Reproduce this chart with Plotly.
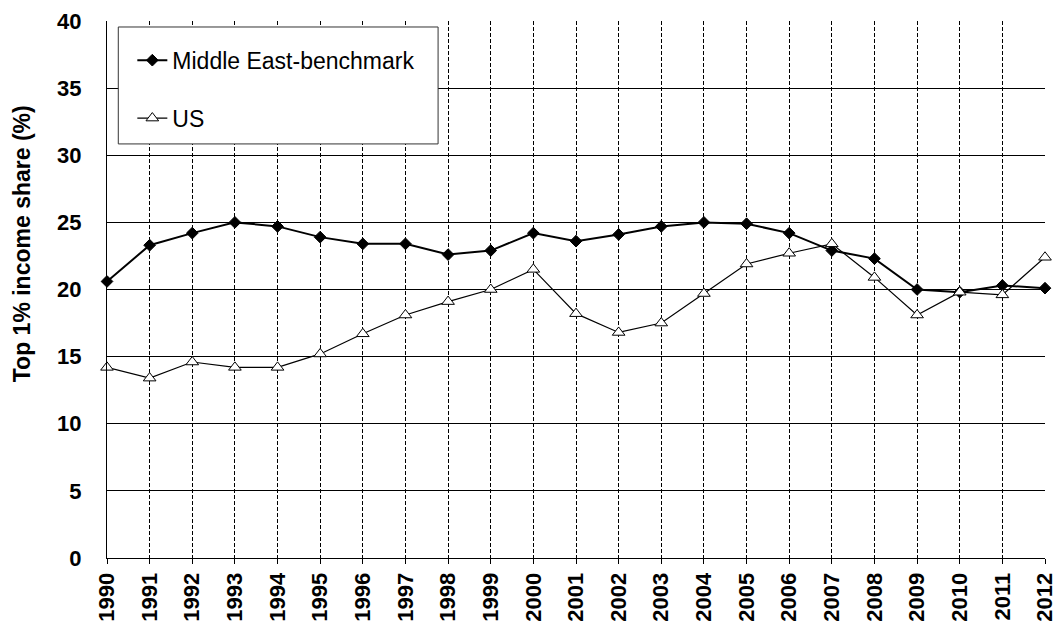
import plotly.graph_objects as go

# years on the x axis
years = list(range(1990, 2013))

# top 1% income share
middle_east = [20.6, 23.3, 24.2, 25.0, 24.7, 23.9, 23.4, 23.4, 22.6, 22.9, 24.2, 23.6,
               24.1, 24.7, 25.0, 24.9, 24.2, 22.9, 22.3, 20.0, 19.8, 20.3, 20.1]
us = [14.2, 13.4, 14.6, 14.2, 14.2, 15.2, 16.7, 18.1, 19.1, 20.0, 21.5, 18.2,
      16.8, 17.5, 19.7, 21.9, 22.7, 23.4, 20.9, 18.1, 19.8, 19.6, 22.4]

FONT = "Arial, Liberation Sans, sans-serif"

# page has an 8px body margin, so the figure is a bit smaller than the window
W, H = 1053, 619
L, T, PW, PH = 98.7, 13, 938.6, 537.3

fig = go.Figure()
fig.add_trace(go.Scatter(
    x=years, y=middle_east, name="Middle East-benchmark", legendgroup="a",
    mode="lines+markers", cliponaxis=False,
    line=dict(color="black", width=2),
    marker=dict(symbol="diamond", size=9, color="black", line=dict(color="black", width=1)),
))
fig.add_trace(go.Scatter(
    x=years, y=us, name="US", legendgroup="b",
    mode="lines+markers", cliponaxis=False,
    line=dict(color="black", width=1.2),
    marker=dict(symbol="triangle-up", size=11, color="white", line=dict(color="black", width=1)),
))

# legend box (white, covers the grid)
fig.add_shape(type="rect", xref="paper", yref="paper",
              x0=11.3 / PW, x1=331.3 / PW,
              y0=(PH - 123) / PH, y1=(PH - 6) / PH,
              fillcolor="white", line=dict(color="#333333", width=1), layer="above")

# y axis title sits above the middle of the axis, so it is an annotation
fig.add_annotation(
    text="<b>Top 1% income share (%)</b>", textangle=-90, showarrow=False,
    xref="paper", yref="paper", x=(14 - L) / PW, y=(PH - 223) / PH,
    xanchor="center", yanchor="middle",
    font=dict(size=23, family=FONT, color="black"),
)

fig.update_layout(
    width=W, height=H,
    margin=dict(l=L, r=W - L - PW, t=T, b=H - T - PH),
    paper_bgcolor="white", plot_bgcolor="white",
    font=dict(family=FONT, color="black"),
    showlegend=True,
    legend=dict(
        x=0.027, y=0.967, xanchor="left", yanchor="top",
        bgcolor="rgba(0,0,0,0)", borderwidth=0,
        font=dict(size=23, family=FONT, color="black"),
        traceorder="grouped", tracegroupgap=25,
    ),
    xaxis=dict(
        range=[1990, 2012], tickmode="array", tickvals=years, ticktext=[str(y) for y in years],
        tickangle=-90, tickfont=dict(size=22, family=FONT, color="black", weight="bold"),
        ticks="outside", ticklen=5, tickcolor="black", automargin=False,
        showline=True, linecolor="black", linewidth=1,
        showgrid=True, gridcolor="black", gridwidth=1, griddash="4px,2px",
        zeroline=False,
    ),
    yaxis=dict(
        range=[0, 40], tickvals=list(range(0, 41, 5)),
        tickfont=dict(size=22, family=FONT, color="black", weight="bold"),
        ticklabelstandoff=20, automargin=False,
        showline=True, linecolor="black", linewidth=1,
        showgrid=True, gridcolor="black", gridwidth=1,
        zeroline=False,
    ),
)

fig.write_html("out.html")
